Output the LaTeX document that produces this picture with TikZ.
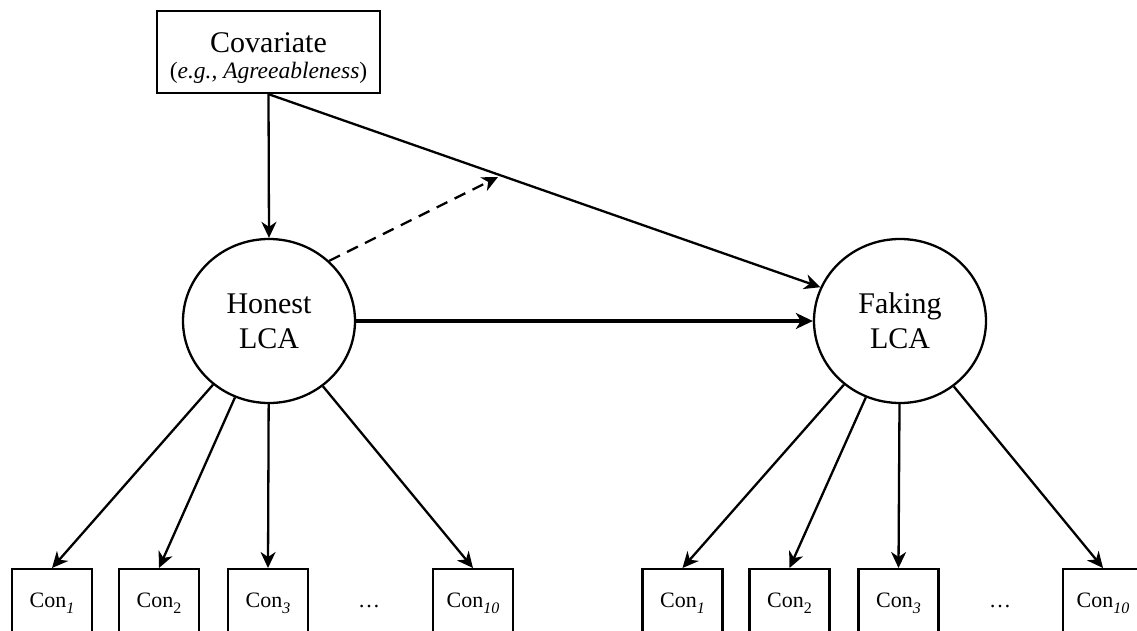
\documentclass[tikz,border=0pt]{standalone}
\usepackage{fontspec}
\setmainfont{Liberation Serif}
\usetikzlibrary{arrows.meta,shapes.geometric}
\newcommand\consub[1]{\raisebox{-6pt}{\fontsize{16}{16}\selectfont #1}}
\begin{document}
\begin{tikzpicture}[x=1pt,y=-1pt,
  line width=2.3pt,
  arr/.style={-{Stealth[length=16pt,width=15pt,inset=5pt]}},
  thickarr/.style={line width=3.4pt,-{Stealth[length=17pt,width=16pt,inset=5pt]}},
  dasharr/.style={arr, dash pattern=on 12pt off 8pt},
  lat/.style={draw, ellipse, minimum width=172pt, minimum height=164pt, inner sep=0pt, align=center, font=\fontsize{30}{35}\selectfont},
  obs/.style={draw, rectangle, minimum width=80pt, minimum height=90pt, anchor=north, inner sep=0pt},
  obstxt/.style={anchor=base, font=\fontsize{22}{22}\selectfont, inner sep=0pt},
  covbox/.style={draw, rectangle, minimum width=223pt, minimum height=82pt, inner sep=0pt},
  covtxt/.style={anchor=base, inner sep=0pt},
]
\useasboundingbox (0,0) rectangle (1137,631);
\clip (0,0) rectangle (1137,631);

% covariate
\node[covbox] (cov) at (268.5,52) {};
\node[covtxt, font=\fontsize{30}{30}\selectfont] (covA) at (268.5,53) {Covariate};
\node[covtxt, font=\fontsize{23.5}{24}\selectfont] (covB) at (268.5,79) {(\textit{e.g., Agreeableness})};

% latent classes
\node[lat] (H) at (269,321) {Honest\\LCA};
\node[lat] (F) at (900,321) {Faking\\LCA};

% indicators, honest
\node[obs] (h1) at (52,568) {};
\node[obs] (h2) at (159,568) {};
\node[obs] (h3) at (268,568) {};
\node[obs] (h4) at (473,568) {};
\node[obstxt] (h1t) at (52,607) {Con\consub{\textit{1}}};
\node[obstxt] (h2t) at (159,607) {Con\consub{2}};
\node[obstxt] (h3t) at (268,607) {Con\consub{\textit{3}}};
\node[obstxt] (h4t) at (473,607) {Con\consub{\textit{10}}};
\node[obstxt] (hdots) at (369,607) {…};

% indicators, faking
\node[obs] (f1) at (682.5,568) {};
\node[obs] (f2) at (789.5,568) {};
\node[obs] (f3) at (898.5,568) {};
\node[obs] (f4) at (1103,568) {};
\node[obstxt] (f1t) at (682.5,607) {Con\consub{\textit{1}}};
\node[obstxt] (f2t) at (789.5,607) {Con\consub{2}};
\node[obstxt] (f3t) at (898.5,607) {Con\consub{\textit{3}}};
\node[obstxt] (f4t) at (1103,607) {Con\consub{\textit{10}}};
\node[obstxt] (fdots) at (1000,607) {…};

% paths
\coordinate (mod) at (498,177);
\draw[arr] (cov.south) -- (H.north);
\draw[arr] (cov.south) -- (F.157);
\draw[dasharr] (H.45) -- (mod);
\draw[thickarr] (H.east) -- (F.west);

\foreach \t in {h1,h2,h3,h4} \draw[arr] (H) -- (\t.north);
\foreach \t in {f1,f2,f3,f4} \draw[arr] (F) -- (\t.north);
\end{tikzpicture}
\end{document}
